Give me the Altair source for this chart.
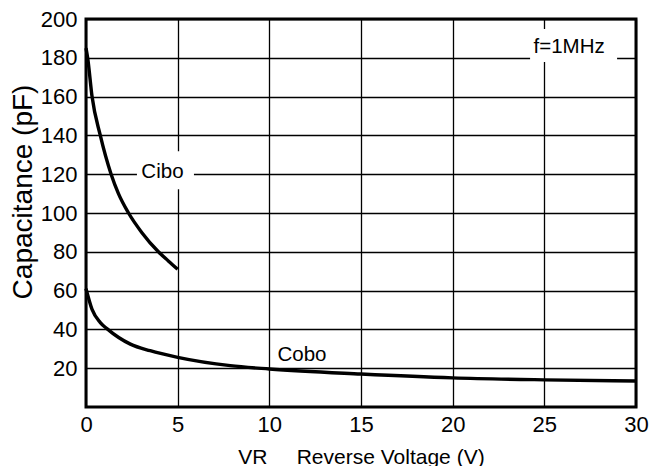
import altair as alt
import pandas as pd

# ---- data ----
cibo_v = [0, 0.09, 0.33, 0.78, 1.37, 1.77, 2.32, 3.04, 3.95, 4.49, 5]
cibo_c = [185, 180, 160, 140, 120, 110, 100, 90, 80, 75.3, 71]

cobo_v = [0, 0.33, 0.78, 1.14, 2.42, 3.5, 5, 7.87, 10, 15, 20, 25, 30]
cobo_c = [61, 50.3, 43.5, 40.4, 32.4, 29, 25.6, 21.3, 19.6, 17.0, 15.0, 14.0, 13.4]

x_ticks = [0, 5, 10, 15, 20, 25, 30]
y_ticks = [20, 40, 60, 80, 100, 120, 140, 160, 180, 200]

label_text = ["Cibo", "Cobo", "f=1MHz"]
label_v = [4.17, 11.78, 26.35]
label_c = [121.3, 26.7, 185.6]

FONT = "Liberation Sans"

curves = pd.DataFrame(
    {"V": cibo_v + cobo_v,
     "C": cibo_c + cobo_c,
     "series": ["Cibo"] * len(cibo_v) + ["Cobo"] * len(cobo_v)}
)
labels = pd.DataFrame({"V": label_v, "C": label_c, "text": label_text})

xscale = alt.Scale(domain=[0, 30], nice=False, zero=False)
yscale = alt.Scale(domain=[0, 200], nice=False, zero=False)

xaxis = alt.Axis(
    values=x_ticks, grid=True, gridColor="black", gridWidth=1.3, gridOpacity=1,
    domain=False, ticks=False, tickSize=0,
    labelFont=FONT, labelFontSize=22, labelColor="black", labelPadding=24,
    labelBaseline="alphabetic", labelFlush=False, labelOverlap=False,
    title="VR\u00a0\u00a0\u00a0\u00a0\u00a0Reverse Voltage (V)",
    titleFont=FONT, titleFontSize=21, titleFontWeight="normal", titleColor="black",
    titleY=56, titleBaseline="alphabetic",
)
yaxis = alt.Axis(
    values=y_ticks, grid=True, gridColor="black", gridWidth=1.3, gridOpacity=1,
    domain=False, ticks=False, tickSize=0,
    labelFont=FONT, labelFontSize=22, labelColor="black", labelPadding=9,
    labelBaseline="middle", labelFlush=False, labelOverlap=False,
    title="Capacitance (pF)",
    titleFont=FONT, titleFontSize=28, titleFontWeight="normal", titleColor="black",
    titleX=-63, titleY=172.5, titleBaseline="middle", titleAlign="center",
)

base = alt.Chart(curves)

lines = base.mark_line(color="black", strokeWidth=3.4, interpolate="monotone").encode(
    x=alt.X("V:Q", scale=xscale, axis=xaxis),
    y=alt.Y("C:Q", scale=yscale, axis=yaxis),
    detail="series:N",
)

# white boxes behind the annotation texts (shape paths in pixel units, size=4 -> scale 1)
box_paths = {
    "Cibo": "M-25.5,-20.5H31.5V17.5H-25.5Z",
    "Cobo": "M-27,-13H27V11H-27Z",
    "f=1MHz": "M-39,-18H48V15H-39Z",
}
boxes = []
for name, path in box_paths.items():
    boxes.append(
        alt.Chart(labels[labels.text == name])
        .mark_point(shape=path, size=4, filled=True, fill="white", opacity=1, strokeWidth=0)
        .encode(x=alt.X("V:Q", scale=xscale), y=alt.Y("C:Q", scale=yscale))
    )

texts = alt.Chart(labels).mark_text(
    font=FONT, fontSize=20.5, color="black", align="center", baseline="middle"
).encode(
    x=alt.X("V:Q", scale=xscale),
    y=alt.Y("C:Q", scale=yscale),
    text="text:N",
)

chart = alt.layer(lines, *boxes, texts).properties(
    width=550,
    height=388,
    autosize=alt.AutoSizeParams(type="none"),
    padding={"left": 78, "top": 11, "right": 20, "bottom": 60},
    background="white",
).configure_view(stroke="black", strokeWidth=3)

chart.save("out.html", embed_options={"renderer": "svg", "actions": False})
